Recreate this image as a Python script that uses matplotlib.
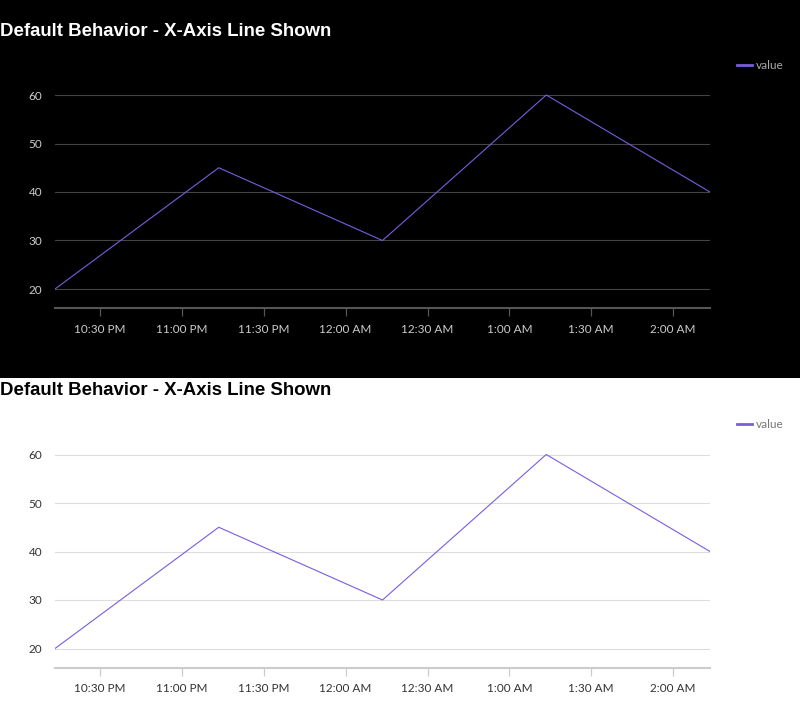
import datetime as dt
import matplotlib
matplotlib.use("Agg")
import matplotlib.pyplot as plt
import matplotlib.dates as mdates
from matplotlib.patches import Rectangle

# data
times = [
    dt.datetime(2024, 1, 1, 22, 13, 30),
    dt.datetime(2024, 1, 1, 23, 13, 30),
    dt.datetime(2024, 1, 2, 0, 13, 30),
    dt.datetime(2024, 1, 2, 1, 13, 30),
    dt.datetime(2024, 1, 2, 2, 13, 30),
]
values = [20, 45, 30, 60, 40]
y_ticks = [20, 30, 40, 50, 60]
title = "Default Behavior - X-Axis Line Shown"
series_name = "value"

LINE_COLOR = "#7b5ce0"
W, H = 800, 719


def fmt_time(x, pos=None):
    d = mdates.num2date(x)
    h = d.hour % 12
    if h == 0:
        h = 12
    return "{}:{:02d} {}".format(h, d.minute, "AM" if d.hour < 12 else "PM")


def draw_panel(fig, top_px, theme):
    if theme == "dark":
        bg, title_c, tick_c, grid_c, axis_c, leg_c = "#000000", "#ffffff", "#cccccc", "#444444", "#555555", "#aaaaaa"
    else:
        bg, title_c, tick_c, grid_c, axis_c, leg_c = "#ffffff", "#000000", "#333333", "#dddddd", "#cccccc", "#777777"

    # plot area in pixels
    left, right = 55, 710
    ax_top = top_px + 75.6
    ax_bot = top_px + 308.4
    ax = fig.add_axes([left / W, 1 - ax_bot / H, (right - left) / W, (ax_bot - ax_top) / H])
    ax.set_facecolor("none")

    ax.plot(times, values, color=LINE_COLOR, lw=0.8, label=series_name)
    ax.set_xlim(times[0], times[-1])
    ax.set_ylim(16, 64)
    ax.set_yticks(y_ticks)
    ax.grid(axis="y", color=grid_c, lw=0.8)
    ax.set_axisbelow(True)

    ax.xaxis.set_major_locator(mdates.MinuteLocator(byminute=[0, 30]))
    ax.xaxis.set_major_formatter(plt.FuncFormatter(fmt_time))

    for s in ["top", "right", "left"]:
        ax.spines[s].set_visible(False)
    ax.spines["bottom"].set_color(axis_c)
    ax.spines["bottom"].set_linewidth(1.5)

    ax.tick_params(axis="x", colors=axis_c, length=6, width=0.9, pad=5, labelcolor=tick_c, labelsize=8.5)
    ax.tick_params(axis="y", length=0, pad=9, labelcolor=tick_c, labelsize=8.5)
    for lab in ax.get_xticklabels() + ax.get_yticklabels():
        lab.set_fontfamily("Lato")

    fig.text(0, 1 - (top_px + 31) / H, title, color=title_c, fontsize=13.4, fontweight="bold",
             family="Liberation Sans", va="center", ha="left")

    leg = ax.legend(loc="center left", bbox_to_anchor=(731 / W, 1 - (top_px + 65.5) / H),
                    bbox_transform=fig.transFigure, frameon=False, handlelength=1.25,
                    handletextpad=0.35, borderpad=0, prop={"family": "Lato", "size": 8.5})
    for t in leg.get_texts():
        t.set_color(leg_c)
    for l in leg.get_lines():
        l.set_linewidth(2)
    return ax


fig = plt.figure(figsize=(W / 100, H / 100), dpi=100, facecolor="white")
fig.patches.append(Rectangle((0, 1 - 378 / H), 1, 378 / H, transform=fig.transFigure,
                             facecolor="black", edgecolor="none", zorder=-10))

draw_panel(fig, 0, "dark")
draw_panel(fig, 359.5, "light")

fig.savefig("out.png", dpi=100)
